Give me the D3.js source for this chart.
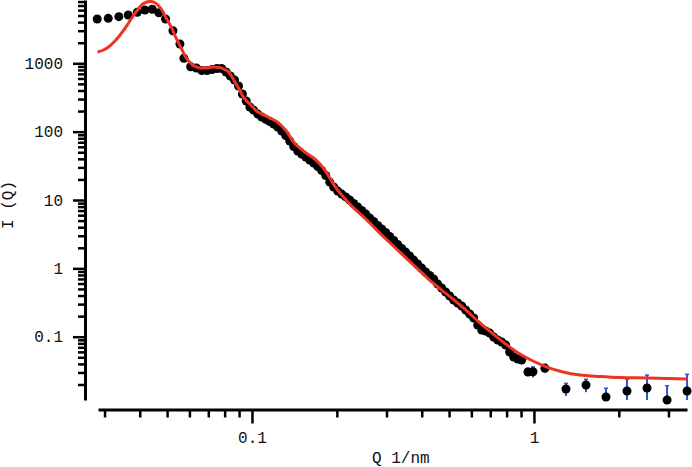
<!DOCTYPE html>
<html>
<head>
<meta charset="utf-8">
<script src="https://cdn.jsdelivr.net/npm/d3@7"></script>
<style>
  body { margin: 0; background: #fff; }
  text { font-family: "Liberation Mono", "Courier New", monospace; }
</style>
</head>
<body>
<div id="viz"></div>
<script>
// measured scattering data (Q in 1/nm, I(Q))
var dataQ = [0.02826, 0.03092, 0.03372, 0.0364, 0.03919, 0.04172, 0.04429, 0.04676, 0.04937, 0.05244,
  0.05552, 0.05736, 0.06059, 0.0635, 0.0664, 0.0693, 0.0722, 0.0751, 0.078, 0.0809,
  0.0838, 0.0867, 0.0896, 0.0925, 0.0954, 0.0983, 0.1012,
  0.1048, 0.1083, 0.1119, 0.1156, 0.1194, 0.1234, 0.1275, 0.1317, 0.1361, 0.1406,
  0.1453, 0.1501, 0.1551, 0.1602, 0.1656, 0.1711, 0.1767, 0.1826, 0.1887, 0.1949,
  0.2014, 0.2081, 0.2150, 0.2221, 0.2295, 0.2371, 0.2450, 0.2531, 0.2615, 0.2702,
  0.2792, 0.2885, 0.2980, 0.3079, 0.3181, 0.3287, 0.3396, 0.3509, 0.3625, 0.3746,
  0.3870, 0.3999, 0.4131, 0.4269, 0.4410, 0.4557, 0.4708, 0.4864, 0.5026, 0.5192,
  0.5365, 0.5543, 0.5727, 0.5917, 0.6114, 0.6316, 0.6526, 0.6743, 0.6967, 0.7198,
  0.7437, 0.7684, 0.7939, 0.8202, 0.8475, 0.8756, 0.9047]
var dataI = [4446, 4550, 4810, 5090, 5570, 6025, 6165, 5495, 4446, 2998,
  1914, 1184, 891, 853, 785, 785, 812, 839, 839, 746,
  652, 570, 466, 355, 281, 229, 207,
  181, 164, 151, 141, 129, 117, 102, 87.8, 73.0, 60.6,
  52.1, 47.1, 42.6, 38.5, 34.8, 30.9, 27.0, 22.8, 18.3, 15.5,
  13.5, 12.2, 11.1, 10.0, 8.89, 7.90, 7.02, 6.24, 5.45, 4.85,
  4.24, 3.76, 3.35, 2.92, 2.56, 2.23, 1.95, 1.73, 1.52, 1.32,
  1.16, 1.01, 0.884, 0.786, 0.699, 0.590, 0.516, 0.451, 0.394, 0.344,
  0.311, 0.281, 0.246, 0.215, 0.188, 0.148, 0.125, 0.121, 0.113, 0.0990,
  0.0895, 0.0837, 0.0756, 0.0597, 0.0505, 0.0472, 0.0456]

// high-Q binned points with error bars
var tailQ = [0.952, 0.992, 1.094, 1.299, 1.530, 1.801, 2.138, 2.518, 2.966, 3.492]
var tailI = [0.0305, 0.0307, 0.0345, 0.01717, 0.01964, 0.01311, 0.01605, 0.01776, 0.01186, 0.01605]
var tailErr = [0.004, 0.0054, 0.005, 0.0036, 0.0042, 0.0045, 0.0078, 0.0097, 0.0073, 0.0121]

// model fit
var fitQ = [0.02833, 0.02976, 0.03099, 0.03228, 0.03363, 0.03503, 0.0365, 0.03802, 0.03928, 0.04059,
  0.04194, 0.04369, 0.04514, 0.04665, 0.04819, 0.04938, 0.05102, 0.05229, 0.05358, 0.05492,
  0.05675, 0.05815, 0.06009, 0.06159, 0.06364, 0.06576, 0.06907, 0.07254, 0.0768, 0.08,
  0.08266, 0.08541, 0.08825, 0.09043, 0.09268, 0.09576, 0.09813, 0.1014, 0.1039, 0.1082,
  0.1128, 0.1175, 0.1224, 0.1275, 0.1328, 0.1395, 0.1477, 0.1538, 0.1602, 0.167,
  0.174, 0.1812, 0.1888, 0.1966, 0.2082, 0.2223, 0.2554, 0.2911, 0.3344, 0.3843,
  0.4379, 0.5159, 0.5783, 0.6431, 0.7153, 0.8023, 0.8921, 0.9918, 1.112, 1.268,
  1.457, 1.715, 2.02, 2.518, 3.492]
var fitI = [1463, 1565, 1732, 2015, 2426, 3019, 3887, 5004, 6024, 7129,
  7755, 8022, 7755, 6891, 5825, 4758, 3758, 3070, 2426, 1982,
  1514, 1237, 1045, 944, 883, 853, 853, 883, 868, 812,
  746, 609, 481, 407, 332, 281, 254, 222, 200, 181,
  167, 153, 141, 121, 100.5, 73.0, 57.7, 50.4, 44.8, 39.8,
  33.6, 27.5, 21.0, 16.0, 11.8, 8.74, 5.10, 2.97, 1.73, 1.01,
  0.611, 0.356, 0.238, 0.159, 0.110, 0.0756, 0.0558, 0.0441, 0.0360, 0.0305,
  0.0275, 0.0262, 0.0253, 0.0249, 0.0240]

var xDomain = [0.02844, 3.49]
var yDomain = [0.01186, 8433]
var xLabels = [0.1, 1]
var yLabels = [0.1, 1, 10, 100, 1000]

var width = 692,
  height = 467

var svg = d3
  .select('#viz')
  .append('svg')
  .attr('width', width)
  .attr('height', height)

var x = d3.scaleLog().domain(xDomain).range([98, 687])
var y = d3.scaleLog().domain(yDomain).range([400, 0])

function isMajor(list, v) {
  return list.some(function(m) {
    return Math.abs(m - v) / m < 1e-6
  })
}

// y axis, offset to the left of the plot area
var yAxis = svg
  .append('g')
  .attr('transform', 'translate(85,0)')
  .call(
    d3
      .axisLeft(y)
      .tickValues(y.ticks())
      .tickSizeInner(7)
      .tickSizeOuter(0)
      .tickFormat(function(d) {
        return isMajor(yLabels, d) ? d3.format('~g')(d) : ''
      })
  )
yAxis.select('.domain').attr('stroke-width', 3)
yAxis
  .selectAll('.tick line')
  .attr('stroke-width', 2.5)
  .attr('x2', function(d) {
    return isMajor(yLabels, d) ? -12 : -7
  })
yAxis
  .selectAll('.tick text')
  .attr('x', -22)
  .attr('font-size', 16)
  .attr('font-family', null)
  .attr('fill', '#111')

// x axis, offset below the plot area
var xAxis = svg
  .append('g')
  .attr('transform', 'translate(0,409.5)')
  .call(
    d3
      .axisBottom(x)
      .tickValues(x.ticks())
      .tickSizeInner(8)
      .tickSizeOuter(0)
      .tickFormat(function(d) {
        return isMajor(xLabels, d) ? d3.format('~g')(d) : ''
      })
  )
xAxis.select('.domain').attr('stroke-width', 3)
xAxis
  .selectAll('.tick line')
  .attr('stroke-width', 2.5)
  .attr('y2', function(d) {
    return isMajor(xLabels, d) ? 14 : 8
  })
xAxis
  .selectAll('.tick text')
  .attr('y', 22)
  .attr('font-size', 16)
  .attr('font-family', null)
  .attr('fill', '#111')

// axis titles
svg
  .append('text')
  .attr('x', 372)
  .attr('y', 463)
  .attr('font-size', 16)
  .attr('fill', '#111')
  .text('Q 1/nm')

svg
  .append('text')
  .attr('transform', 'translate(13,205)rotate(-90)')
  .attr('text-anchor', 'middle')
  .attr('font-size', 16)
  .attr('fill', '#111')
  .text('I (Q)')

// error bars on the binned tail
var tail = tailQ.map(function(q, i) {
  return { q: q, i: tailI[i], e: tailErr[i] }
})

function yLow(d) {
  var lo = d.i - d.e
  return lo > yDomain[0] ? y(lo) : y.range()[0]
}

var bars = svg
  .selectAll('g.err')
  .data(tail)
  .enter()
  .append('g')
  .attr('class', 'err')
  .attr('stroke', '#2b55d6')
bars
  .append('line')
  .attr('x1', function(d) { return x(d.q) })
  .attr('x2', function(d) { return x(d.q) })
  .attr('y1', function(d) { return y(d.i + d.e) })
  .attr('y2', yLow)
  .attr('stroke-width', 2)
bars
  .append('line')
  .attr('x1', function(d) { return x(d.q) - 2 })
  .attr('x2', function(d) { return x(d.q) + 2 })
  .attr('y1', function(d) { return y(d.i + d.e) })
  .attr('y2', function(d) { return y(d.i + d.e) })
  .attr('stroke-width', 1.5)

// data points
var points = dataQ
  .map(function(q, i) {
    return { q: q, i: dataI[i] }
  })
  .concat(tail)

svg
  .selectAll('circle.pt')
  .data(points)
  .enter()
  .append('circle')
  .attr('class', 'pt')
  .attr('cx', function(d) { return x(d.q) })
  .attr('cy', function(d) { return y(d.i) })
  .attr('r', 4.5)
  .attr('fill', '#000')

// model curve on top
var fit = fitQ.map(function(q, i) {
  return [q, fitI[i]]
})

var line = d3
  .line()
  .x(function(d) { return x(d[0]) })
  .y(function(d) { return y(d[1]) })
  .curve(d3.curveMonotoneX)

svg
  .append('path')
  .datum(fit)
  .attr('d', line)
  .attr('fill', 'none')
  .attr('stroke', '#ee3322')
  .attr('stroke-width', 3)
</script>
</body>
</html>
